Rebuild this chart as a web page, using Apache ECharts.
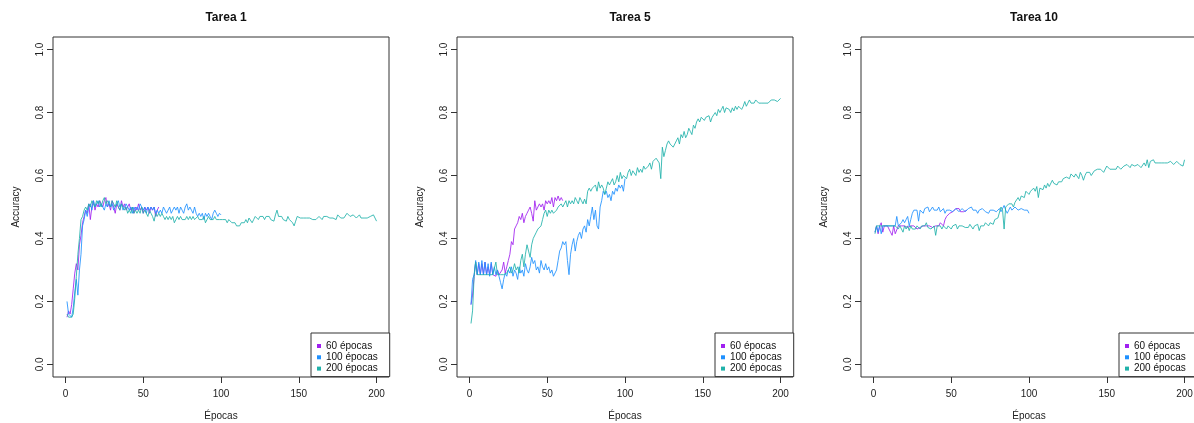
<!DOCTYPE html>
<html>
<head>
<meta charset="utf-8">
<script src="https://cdn.jsdelivr.net/npm/echarts@6/dist/echarts.min.js"></script>
<style>
  html, body { margin: 0; padding: 0; background: #fff; }
  #chart { width: 1194px; height: 423px; }
</style>
</head>
<body>
<div id="chart"></div>
<script>
// nombres de las series y de los paneles
var names = ['60 épocas', '100 épocas', '200 épocas'];
var titles = ['Tarea 1', 'Tarea 5', 'Tarea 10'];
var colors = ['#a020f0', '#1e90ff', '#20b2aa'];
var xTicks = [0, 50, 100, 150, 200];
var yTicks = [0, 0.2, 0.4, 0.6, 0.8, 1.0];

// Tarea 1
var t1_60 = [0.15,0.17,0.16,0.19,0.24,0.29,0.32,0.30,0.38,0.41,
  0.45,0.47,0.49,0.48,0.51,0.46,0.50,0.52,0.49,0.51,
  0.50,0.52,0.51,0.50,0.52,0.53,0.50,0.51,0.49,0.52,
  0.50,0.48,0.51,0.50,0.49,0.52,0.50,0.51,0.49,0.50,
  0.51,0.49,0.50,0.48,0.50,0.49,0.51,0.49,0.50,0.48,
  0.50,0.49,0.50,0.48,0.50,0.49,0.50,0.47,0.49,0.50];
var t1_100 = [0.20,0.16,0.16,0.15,0.18,0.23,0.27,0.22,0.30,0.35,
  0.44,0.46,0.49,0.47,0.50,0.51,0.49,0.52,0.50,0.51,
  0.52,0.50,0.51,0.50,0.49,0.51,0.50,0.52,0.50,0.51,
  0.49,0.50,0.51,0.52,0.50,0.51,0.49,0.50,0.51,0.50,
  0.49,0.50,0.48,0.50,0.49,0.50,0.49,0.51,0.50,0.49,
  0.50,0.48,0.50,0.49,0.50,0.49,0.50,0.48,0.49,0.48,
  0.49,0.48,0.50,0.49,0.48,0.49,0.50,0.48,0.49,0.50,
  0.49,0.50,0.48,0.50,0.49,0.48,0.50,0.51,0.49,0.50,
  0.49,0.48,0.50,0.48,0.47,0.48,0.47,0.48,0.46,0.48,
  0.47,0.48,0.47,0.46,0.48,0.49,0.48,0.47,0.48,0.475];
var t1_200 = [0.16,0.15,0.15,0.15,0.16,0.21,0.28,0.35,0.40,0.46,
  0.47,0.49,0.50,0.49,0.51,0.50,0.52,0.51,0.50,0.52,
  0.51,0.52,0.50,0.52,0.53,0.51,0.52,0.51,0.50,0.52,
  0.51,0.50,0.52,0.50,0.49,0.51,0.50,0.49,0.50,0.48,
  0.49,0.48,0.50,0.48,0.49,0.48,0.49,0.48,0.50,0.48,
  0.49,0.48,0.47,0.49,0.48,0.47,0.455,0.48,0.47,0.48,
  0.47,0.48,0.47,0.46,0.47,0.46,0.47,0.46,0.47,0.45,
  0.46,0.47,0.46,0.47,0.46,0.455,0.46,0.47,0.46,0.47,
  0.46,0.47,0.46,0.465,0.47,0.46,0.455,0.46,0.47,0.45,
  0.46,0.47,0.46,0.455,0.46,0.47,0.46,0.465,0.46,0.455,
  0.46,0.455,0.46,0.45,0.46,0.455,0.45,0.445,0.45,0.44,
  0.445,0.44,0.45,0.455,0.45,0.46,0.45,0.465,0.46,0.45,
  0.46,0.47,0.465,0.46,0.47,0.465,0.47,0.46,0.47,0.465,
  0.47,0.46,0.465,0.455,0.475,0.49,0.47,0.465,0.47,0.46,
  0.465,0.455,0.47,0.46,0.465,0.45,0.44,0.455,0.47,0.475,
  0.465,0.47,0.465,0.46,0.465,0.46,0.465,0.47,0.46,0.465,
  0.46,0.465,0.47,0.465,0.46,0.47,0.465,0.47,0.475,0.465,
  0.47,0.465,0.47,0.46,0.475,0.47,0.465,0.47,0.465,0.47,
  0.48,0.475,0.47,0.465,0.475,0.47,0.465,0.47,0.475,0.465,
  0.47,0.465,0.47,0.465,0.46,0.47,0.465,0.475,0.465,0.455];

// Tarea 5
var t5_60 = [0.19,0.22,0.28,0.325,0.285,0.32,0.285,0.32,0.285,0.325,
  0.285,0.31,0.285,0.32,0.285,0.29,0.28,0.30,0.285,0.29,
  0.30,0.325,0.29,0.31,0.33,0.35,0.39,0.38,0.43,0.44,
  0.45,0.47,0.46,0.48,0.45,0.47,0.48,0.49,0.50,0.48,
  0.455,0.52,0.49,0.50,0.51,0.50,0.51,0.49,0.52,0.51,
  0.52,0.51,0.53,0.50,0.53,0.52,0.535,0.52,0.53,0.52];
var t5_100 = [0.19,0.27,0.285,0.33,0.285,0.325,0.285,0.33,0.285,0.325,
  0.285,0.32,0.28,0.325,0.285,0.31,0.285,0.30,0.28,0.26,
  0.24,0.27,0.29,0.28,0.30,0.29,0.31,0.28,0.30,0.29,
  0.27,0.31,0.29,0.30,0.28,0.32,0.30,0.29,0.31,0.34,
  0.32,0.33,0.30,0.31,0.29,0.33,0.31,0.30,0.32,0.30,
  0.31,0.29,0.30,0.28,0.28,0.30,0.33,0.36,0.37,0.39,
  0.38,0.39,0.33,0.285,0.35,0.38,0.40,0.36,0.39,0.41,
  0.42,0.40,0.43,0.44,0.42,0.46,0.44,0.47,0.50,0.46,
  0.49,0.44,0.43,0.50,0.52,0.55,0.54,0.55,0.53,0.54,
  0.52,0.55,0.54,0.56,0.55,0.57,0.56,0.57,0.55,0.59];
var t5_200 = [0.13,0.17,0.28,0.325,0.285,0.285,0.285,0.285,0.285,0.29,
  0.285,0.285,0.285,0.285,0.285,0.285,0.325,0.285,0.285,0.285,
  0.285,0.285,0.285,0.29,0.30,0.31,0.29,0.30,0.32,0.30,
  0.31,0.29,0.33,0.35,0.31,0.35,0.38,0.36,0.34,0.38,
  0.40,0.40,0.42,0.43,0.43,0.44,0.46,0.48,0.49,0.47,
  0.49,0.48,0.49,0.48,0.48,0.49,0.50,0.50,0.51,0.50,
  0.51,0.52,0.50,0.52,0.51,0.52,0.51,0.53,0.52,0.51,
  0.53,0.52,0.51,0.525,0.51,0.55,0.56,0.55,0.56,0.555,
  0.57,0.55,0.58,0.56,0.57,0.56,0.54,0.56,0.58,0.57,
  0.58,0.59,0.57,0.58,0.60,0.58,0.61,0.59,0.60,0.60,
  0.59,0.61,0.62,0.60,0.615,0.62,0.60,0.625,0.61,0.62,
  0.61,0.63,0.62,0.615,0.63,0.64,0.62,0.645,0.65,0.655,
  0.66,0.64,0.59,0.69,0.66,0.68,0.70,0.71,0.70,0.705,
  0.69,0.70,0.71,0.72,0.70,0.73,0.72,0.74,0.72,0.73,
  0.75,0.74,0.73,0.76,0.75,0.77,0.78,0.77,0.785,0.78,
  0.775,0.785,0.78,0.79,0.77,0.785,0.79,0.80,0.79,0.81,
  0.80,0.81,0.82,0.80,0.815,0.82,0.81,0.80,0.815,0.805,
  0.82,0.81,0.82,0.825,0.81,0.82,0.835,0.82,0.83,0.84,
  0.83,0.835,0.83,0.84,0.835,0.83,0.835,0.83,0.835,0.83,
  0.835,0.83,0.835,0.84,0.835,0.84,0.835,0.835,0.84,0.845];

// Tarea 10
var t10_60 = [0.42,0.44,0.415,0.44,0.45,0.42,0.44,0.44,0.44,0.44,
  0.42,0.41,0.44,0.415,0.42,0.44,0.44,0.44,0.445,0.44,
  0.44,0.435,0.44,0.44,0.435,0.44,0.435,0.43,0.43,0.435,
  0.435,0.44,0.435,0.44,0.435,0.44,0.44,0.435,0.44,0.44,
  0.445,0.44,0.45,0.455,0.44,0.46,0.47,0.475,0.48,0.48,
  0.485,0.49,0.495,0.49,0.495,0.485,0.48,0.485,0.49,0.49];
var t10_100 = [0.42,0.44,0.42,0.44,0.415,0.44,0.44,0.44,0.44,0.44,
  0.44,0.44,0.44,0.44,0.47,0.44,0.44,0.45,0.46,0.45,
  0.46,0.47,0.44,0.46,0.48,0.49,0.485,0.49,0.455,0.49,
  0.49,0.48,0.495,0.49,0.50,0.485,0.49,0.50,0.49,0.495,
  0.49,0.50,0.485,0.49,0.495,0.48,0.49,0.485,0.49,0.495,
  0.485,0.49,0.495,0.49,0.485,0.49,0.495,0.49,0.485,0.49,
  0.495,0.49,0.50,0.49,0.485,0.49,0.48,0.49,0.485,0.495,
  0.49,0.485,0.49,0.48,0.49,0.485,0.49,0.495,0.485,0.49,
  0.495,0.485,0.49,0.505,0.49,0.48,0.49,0.50,0.49,0.495,
  0.50,0.505,0.49,0.49,0.495,0.50,0.49,0.485,0.49,0.48];
var t10_200 = [0.415,0.44,0.44,0.44,0.44,0.44,0.44,0.44,0.44,0.44,
  0.44,0.44,0.44,0.44,0.44,0.43,0.44,0.435,0.42,0.44,
  0.43,0.44,0.425,0.44,0.43,0.435,0.43,0.44,0.435,0.43,
  0.44,0.435,0.44,0.45,0.435,0.44,0.43,0.435,0.44,0.41,
  0.44,0.435,0.44,0.43,0.44,0.435,0.43,0.44,0.435,0.43,
  0.44,0.435,0.445,0.43,0.44,0.435,0.44,0.445,0.435,0.44,
  0.435,0.445,0.44,0.43,0.44,0.435,0.445,0.425,0.44,0.435,
  0.44,0.45,0.445,0.44,0.45,0.455,0.445,0.46,0.455,0.465,
  0.47,0.50,0.49,0.43,0.50,0.505,0.51,0.505,0.51,0.50,
  0.515,0.52,0.53,0.52,0.535,0.54,0.53,0.55,0.545,0.54,
  0.55,0.545,0.56,0.55,0.565,0.53,0.56,0.565,0.555,0.57,
  0.56,0.575,0.565,0.57,0.585,0.575,0.58,0.57,0.58,0.585,
  0.58,0.59,0.585,0.595,0.60,0.59,0.605,0.60,0.595,0.605,
  0.60,0.59,0.61,0.60,0.585,0.60,0.61,0.605,0.61,0.60,
  0.605,0.615,0.61,0.62,0.615,0.62,0.625,0.61,0.62,0.63,
  0.625,0.62,0.625,0.62,0.625,0.62,0.63,0.625,0.62,0.625,
  0.63,0.625,0.635,0.63,0.625,0.635,0.63,0.63,0.625,0.635,
  0.63,0.625,0.62,0.64,0.63,0.65,0.625,0.645,0.64,0.65,
  0.64,0.645,0.64,0.645,0.64,0.645,0.64,0.645,0.64,0.64,
  0.645,0.64,0.635,0.64,0.645,0.64,0.635,0.64,0.63,0.65];

var panels = [[t1_60, t1_100, t1_200], [t5_60, t5_100, t5_200], [t10_60, t10_100, t10_200]];

var font = 'Liberation Sans, Arial, sans-serif';
var gridLeft = [53, 457, 861];
var gridW = 336, gridTop = 37, gridH = 340;

var grids = [], xAxes = [], yAxes = [], titleList = [], legends = [], series = [];

gridLeft.forEach(function (left, p) {
  grids.push({left: left, top: gridTop, width: gridW, height: gridH,
    outerBoundsMode: 'none', containLabel: false,
    show: true, borderColor: '#333', borderWidth: 1, backgroundColor: '#fff'});
  xAxes.push({
    type: 'value', gridIndex: p, min: -8, max: 208,
    name: 'Épocas', nameLocation: 'middle', nameGap: 34, nameMoveOverlap: false,
    nameTextStyle: {fontFamily: font, fontSize: 10, color: '#222'},
    axisLine: {show: false, onZero: false},
    axisTick: {show: true, length: 6, lineStyle: {color: '#333'}, customValues: xTicks},
    axisLabel: {fontFamily: font, fontSize: 10, color: '#222', margin: 12, customValues: xTicks},
    splitLine: {show: false}
  });
  yAxes.push({
    type: 'value', gridIndex: p, min: -0.04, max: 1.04,
    name: 'Accuracy', nameLocation: 'middle', nameGap: 32, nameMoveOverlap: false,
    nameTextStyle: {fontFamily: font, fontSize: 10, color: '#222'},
    axisLine: {show: false, onZero: false},
    axisTick: {show: true, length: 6, lineStyle: {color: '#333'}, customValues: yTicks},
    axisLabel: {fontFamily: font, fontSize: 10, color: '#222', margin: 8, rotate: 90,
      customValues: yTicks, formatter: function (v) { return v.toFixed(1); }},
    splitLine: {show: false}
  });
  titleList.push({
    text: titles[p], left: left + gridW / 2, top: 7, textAlign: 'center',
    textStyle: {fontFamily: font, fontSize: 12, fontWeight: 'bold', color: '#111'}
  });
  legends.push({
    data: names, left: left + 258, top: 333, orient: 'vertical',
    itemWidth: 4, itemHeight: 4, itemGap: 1.3, icon: 'rect',
    padding: [8, 12, 3, 6],
    borderColor: '#333', borderWidth: 1, backgroundColor: '#fff',
    textStyle: {fontFamily: font, fontSize: 10, color: '#111', lineHeight: 10}
  });
  panels[p].forEach(function (vals, s) {
    series.push({
      name: names[s], type: 'line', xAxisIndex: p, yAxisIndex: p,
      showSymbol: false, symbol: 'none',
      data: vals.map(function (v, i) { return [i + 1, v]; }),
      lineStyle: {width: 1, color: colors[s], opacity: 0.85},
      itemStyle: {color: colors[s]}
    });
  });
});

var myChart = echarts.init(document.getElementById('chart'));
myChart.setOption({
  animation: false,
  backgroundColor: '#fff',
  title: titleList,
  legend: legends,
  grid: grids,
  xAxis: xAxes,
  yAxis: yAxes,
  series: series
});
</script>
</body>
</html>
